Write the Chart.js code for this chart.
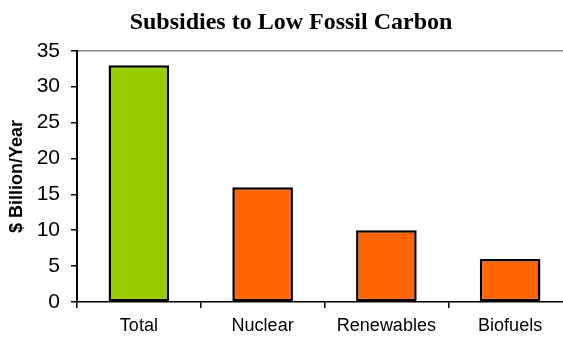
<!DOCTYPE html>
<html>
<head>
<meta charset="utf-8">
<script src="https://cdn.jsdelivr.net/npm/chart.js@4.4.1/dist/chart.umd.min.js"></script>
<style>
  html, body { margin: 0; padding: 0; background: #fff; overflow: hidden; }
  #wrap { width: 580px; height: 338px; }
</style>
</head>
<body>
<div id="wrap"><canvas id="c" width="580" height="338"></canvas></div>
<script>
const categories = ["Total", "Nuclear", "Renewables", "Biofuels"];
const subsidies = [33, 16, 10, 6];
const barColors = ["#99CC00", "#FF6600", "#FF6600", "#FF6600"];
const yTicks = [0, 5, 10, 15, 20, 25, 30, 35];
const chartTitle = "Subsidies to Low Fossil Carbon";
const yTitle = "$ Billion/Year";

new Chart(document.getElementById("c"), {
  type: "bar",
  data: {
    labels: categories,
    datasets: [{
      data: subsidies,
      backgroundColor: barColors,
      borderColor: "#000",
      borderWidth: 2.5,
      borderSkipped: false,
      categoryPercentage: 1,
      barPercentage: 0.49
    }]
  },
  options: {
    responsive: false,
    animation: false,
    layout: { padding: { left: 10, right: 8, top: 0, bottom: 0 } },
    plugins: {
      legend: { display: false },
      tooltip: { enabled: false },
      title: {
        display: true,
        text: chartTitle,
        color: "#000",
        font: { family: "'Liberation Serif', 'Times New Roman', serif", size: 24, weight: "bold", lineHeight: 1.2 },
        padding: { top: 8, bottom: 14 }
      }
    },
    scales: {
      x: {
        afterFit: s => { s.height = 36; },
        grid: { display: true, drawOnChartArea: false, offset: true, tickLength: 6, color: "#000", lineWidth: 1.5 },
        border: { display: true, color: "#000", width: 1.5 },
        ticks: { color: "#000", padding: 7, font: { family: "'Liberation Sans', Arial, sans-serif", size: 18 } }
      },
      y: {
        min: 0, max: 35,
        afterFit: s => { s.width = 67; },
        afterBuildTicks: s => { s.ticks = yTicks.map(v => ({ value: v })); },
        grid: {
          drawOnChartArea: true,
          color: ctx => (ctx.tick && ctx.tick.value === 35) ? "#8c8c8c" : "rgba(0,0,0,0)",
          tickColor: "#000",
          lineWidth: 1.5,
          tickWidth: 1.5,
          tickLength: 6
        },
        border: { display: true, color: "#000", width: 2 },
        ticks: { color: "#000", padding: 11, font: { family: "'Liberation Sans', Arial, sans-serif", size: 21 } },
        title: {
          display: true,
          text: yTitle,
          color: "#000",
          padding: { top: -4, bottom: 0 },
          font: { family: "'Liberation Sans', Arial, sans-serif", size: 18, weight: "bold" }
        }
      }
    }
  }
});
</script>
</body>
</html>
